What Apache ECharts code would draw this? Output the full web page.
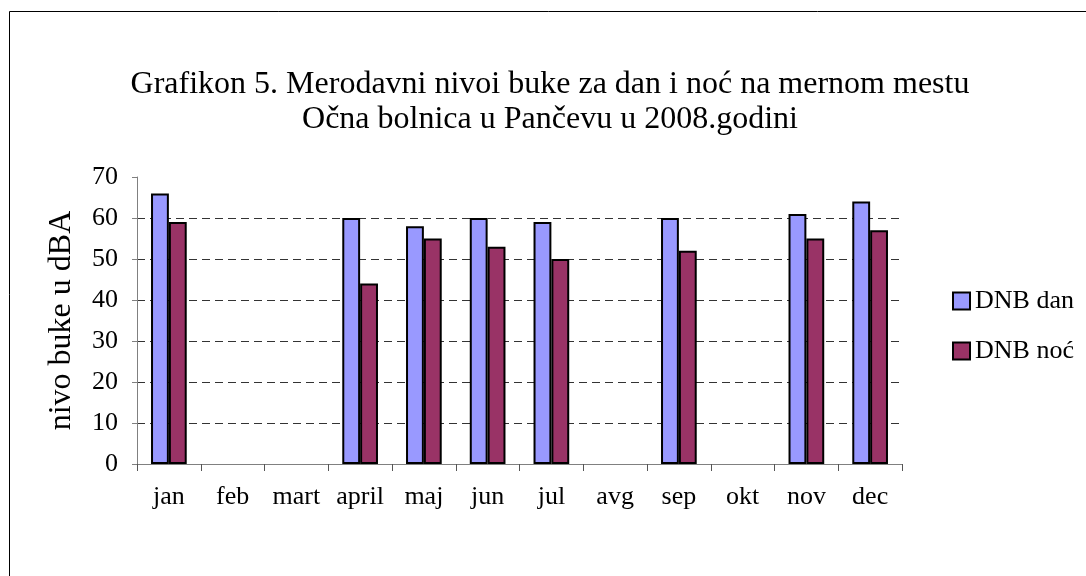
<!DOCTYPE html>
<html><head><meta charset="utf-8">
<script src="https://cdn.jsdelivr.net/npm/echarts@6/dist/echarts.min.js"></script>
<style>html,body{margin:0;padding:0;background:#fff}#c{width:1086px;height:576px}</style>
</head><body><div id="c"></div>
<script>
const categories = ['jan','feb','mart','april','maj','jun','jul','avg','sep','okt','nov','dec'];
const dnbDan = [66, null, null, 60, 58, 60, 59, null, 60, null, 61, 64];
const dnbNoc = [59, null, null, 44, 55, 53, 50, null, 52, null, 55, 57];
const yTicks = [0, 10, 20, 30, 40, 50, 60, 70];
const titleLines = ['Grafikon 5. Merodavni nivoi buke za dan i noć na mernom mestu', 'Očna bolnica u Pančevu u 2008.godini'];

const font = 'Liberation Serif';
const chart = echarts.init(document.getElementById('c'));
chart.setOption({
  animation: false,
  backgroundColor: '#fff',
  title: {
    text: titleLines.join('\n'),
    left: 550, top: 67, textAlign: 'center', padding: 0,
    textStyle: { fontFamily: font, fontSize: 32, fontWeight: 'normal', color: '#000', lineHeight: 35 }
  },
  graphic: [{
    type: 'rect', shape: { x: 9.5, y: 11.5, width: 1200, height: 700 },
    style: { fill: 'none', stroke: '#000', lineWidth: 1 }, z: -1
  }],
  legend: {
    orient: 'vertical', left: 952, top: 288, itemGap: 24, padding: 0,
    itemWidth: 17, itemHeight: 17,
    textStyle: { fontFamily: font, fontSize: 26, color: '#000', lineHeight: 17 },
    data: [
      { name: 'DNB dan', icon: 'rect', itemStyle: { color: '#9999FF', borderColor: '#000', borderWidth: 2 } },
      { name: 'DNB noć', icon: 'rect', itemStyle: { color: '#993366', borderColor: '#000', borderWidth: 2 } }
    ]
  },
  grid: { left: 137, right: 184, top: 177, bottom: 112 },
  xAxis: {
    type: 'category', data: categories,
    axisLine: { lineStyle: { color: '#808080', width: 1 } },
    axisTick: { show: true, inside: false, length: 7, lineStyle: { color: '#555' } },
    axisLabel: { fontFamily: font, fontSize: 26, color: '#000', margin: 20, interval: 0 }
  },
  yAxis: {
    type: 'value', min: 0, max: 70, interval: 10,
    name: 'nivo buke u dBA', nameLocation: 'middle', nameGap: 59,
    nameTextStyle: { fontFamily: font, fontSize: 32, color: '#000' },
    axisLine: { show: true, lineStyle: { color: '#808080', width: 1 } },
    axisTick: { show: true, length: 5, lineStyle: { color: '#808080' } },
    axisLabel: { fontFamily: font, fontSize: 26, color: '#000', margin: 19,
      formatter: v => yTicks.includes(v) ? String(v) : '' },
    splitLine: { show: true, showMaxLine: false, lineStyle: { color: '#333', type: [8, 5], width: 1 } }
  },
  series: [
    { name: 'DNB dan', type: 'bar', data: dnbDan, barGap: '0%', barCategoryGap: '44%',
      itemStyle: { color: '#9999FF', borderColor: '#000', borderWidth: 2 } },
    { name: 'DNB noć', type: 'bar', data: dnbNoc,
      itemStyle: { color: '#993366', borderColor: '#000', borderWidth: 2 } }
  ]
});
</script></body></html>
